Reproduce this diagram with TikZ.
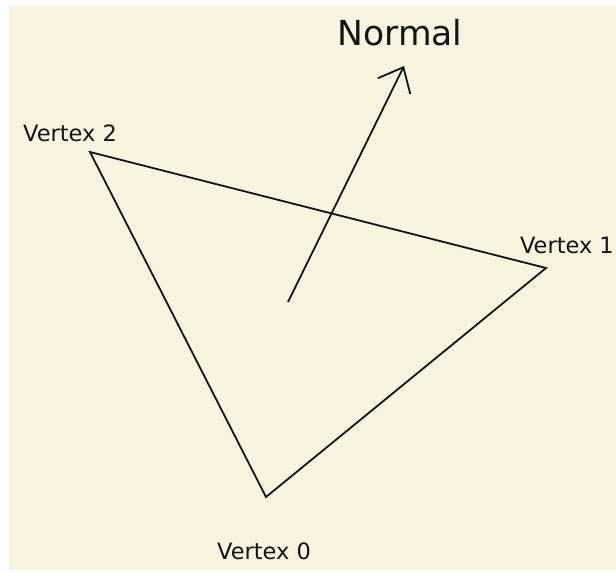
\documentclass[tikz,border=0pt]{standalone}
\usepackage{fontspec}
\setmainfont{DejaVu Sans}
\usetikzlibrary{arrows.meta}

\definecolor{paper}{RGB}{248,244,224}
\definecolor{ink}{RGB}{20,20,20}

\begin{document}
\begin{tikzpicture}[
  x=1pt, y=-1pt,
  edge/.style  = {draw=ink, line width=1.8pt, line join=miter},
  vlabel/.style = {text=ink, font=\fontsize{22.5}{26}\selectfont, inner sep=0pt},
  arr/.style   = {-{Straight Barb[length=21pt,width=36pt,line width=1.8pt]}, draw=ink, line width=1.8pt},
]

%% Frame
\useasboundingbox (0,0) rectangle (616,573);
\fill[white] (0,0) rectangle (616,573);
\fill[paper] (9,6) rectangle (616,570);

%% Triangle corners
\coordinate (v0) at (266,497);
\coordinate (v1) at (546,268);
\coordinate (v2) at (90,152);
\draw[edge] (v0) -- (v1) -- (v2) -- cycle;

%% Corner labels
\node[vlabel] (lab2) at (70,133) {Vertex 2};
\node[vlabel, anchor=east] (lab1) at (614,245) {Vertex 1};
\node[vlabel] (lab0) at (264,551) {Vertex 0};

%% Normal
\coordinate (foot) at (288,302);
\coordinate (tip)  at (404,66);
\draw[arr] (foot) -- (tip);
\node[text=ink, font=\fontsize{34.5}{38}\selectfont, inner sep=0pt] (normal) at (400,33) {Normal};

\end{tikzpicture}
\end{document}
